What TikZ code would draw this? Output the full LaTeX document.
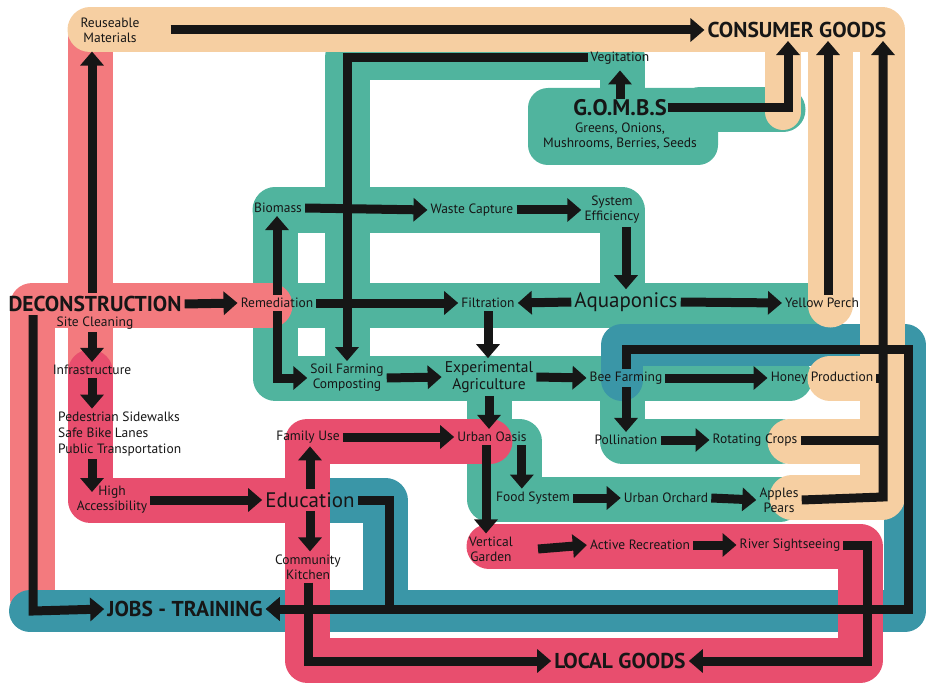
\documentclass[tikz,border=0pt]{standalone}
\usepackage{fontspec}
\setmainfont{PT Sans}
\usetikzlibrary{arrows.meta}
\definecolor{bandpeach}{RGB}{246,207,162}
\definecolor{bandcoral}{RGB}{243,122,126}
\definecolor{bandrose}{RGB}{232,78,110}
\definecolor{bandteal}{RGB}{80,180,158}
\definecolor{bandblue}{RGB}{58,150,167}
\definecolor{ink}{RGB}{22,22,22}
\begin{document}
\begin{tikzpicture}[x=1pt,y=-1pt,
    band/.style={line width=45pt,line cap=round,line join=round},
    lbl/.style={font=\fontsize{13.5}{15}\selectfont,align=center,inner sep=3pt,text=ink},
    big/.style={lbl,font=\fontsize{21}{22}\selectfont},
    head/.style={lbl,font=\bfseries\fontsize{21.5}{22}\selectfont},
    arr/.style={draw=ink,line width=9pt,-{Triangle[length=14pt,width=23pt]}},
    link/.style={draw=ink,line width=9pt}]
    \useasboundingbox (0,0) rectangle (926,687);

    % teal: aquaponics / farming loops
    \draw[band,bandteal] (622,130) -- (622,58) -- (347,58) -- (347,378);
    \draw[band,bandteal] (275,210) -- (622,210) -- (622,305);
    \draw[band,bandteal] (275,210) -- (275,378) -- (790,378);
    \draw[band,bandteal] (275,305) -- (820,305);
    \draw[band,bandteal] (622,378) -- (622,441) -- (780,441);
    \draw[band,bandteal] (489,378) -- (489,499) -- (780,499);
    \draw[band,bandteal] (489,441) -- (519,441) -- (519,499);
    \fill[bandteal,rounded corners=20pt] (528,88) rectangle (718,165);
    \draw[band,bandteal] (700,110) -- (783,110);

    % coral: deconstruction
    \draw[band,bandcoral] (90,40) -- (90,370);
    \draw[band,bandcoral] (270,305) -- (32,305) -- (32,598);

    % blue: jobs
    \draw[band,bandblue,line width=42pt] (622,380) -- (622,345) -- (905,345) -- (905,611) -- (30,611);
    \draw[band,bandblue] (330,500) -- (385,500) -- (385,600);

    % rose: community
    \draw[band,bandrose] (90,372) -- (90,500) -- (307,500);
    \draw[band,bandrose] (490,441) -- (307,441) -- (307,660) -- (860,660) -- (860,546) -- (489,546);

    % peach: consumer goods
    \draw[band,bandpeach] (90,30) -- (882,30) -- (882,497) -- (792,497);
    \draw[band,bandpeach] (882,378) -- (830,378);
    \draw[band,bandpeach] (882,441) -- (790,441);
    \draw[band,bandpeach] (830,30) -- (830,305);
    \draw[band,bandpeach,line width=36pt] (783,30) -- (783,112);

    \node[lbl] (reuse) at (110,30) {Reuseable\\Materials};
    \node[head] (consumer) at (797,30) {CONSUMER GOODS};
    \node[lbl] (veg) at (620,58) {Vegitation};
    \node[head,inner sep=1pt,font=\bfseries\fontsize{22.5}{24}\selectfont] (gombs) at (620,108) {G.O.M.B.S};
    \node[lbl,anchor=north,inner sep=1pt] (crops) at (620,122) {Greens, Onions,\\Mushrooms, Berries, Seeds};
    \node[lbl] (biomass) at (278,208) {Biomass};
    \node[lbl] (waste) at (472,210) {Waste Capture};
    \node[lbl] (effic) at (612,210) {System\\Efficiency};
    \node[head] (decon) at (95,304) {DECONSTRUCTION};
    \node[lbl] (site) at (95,323) {Site Cleaning};
    \node[lbl] (remed) at (277,303) {Remediation};
    \node[lbl] (filtr) at (488,303) {Filtration};
    \node[big] (aqua) at (626,302) {Aquaponics};
    \node[lbl] (perch) at (822,303) {Yellow Perch};
    \node[lbl] (infra) at (92,370) {Infrastructure};
    \node[lbl] (soil) at (347,378) {Soil Farming\\Composting};
    \node[lbl,font=\fontsize{15.5}{17}\selectfont] (expag) at (489,377) {Experimental\\Agriculture};
    \node[lbl] (bee) at (626,378) {Bee Farming};
    \node[lbl] (honey) at (822,378) {Honey Production};
    \node[lbl,align=left,anchor=west,font=\fontsize{13.5}{16}\selectfont] (streets) at (55,434) {Pedestrian Sidewalks\\Safe Bike Lanes\\Public Transportation};
    \node[lbl] (family) at (308,437) {Family Use};
    \node[lbl] (oasis) at (492,437) {Urban Oasis};
    \node[lbl] (pollin) at (626,440) {Pollination};
    \node[lbl] (rotate) at (755,440) {Rotating Crops};
    \node[lbl] (access) at (112,500) {High\\Accessibility};
    \node[big] (educ) at (310,500) {Education};
    \node[lbl] (food) at (533,498) {Food System};
    \node[lbl] (orchard) at (666,498) {Urban Orchard};
    \node[lbl] (apples) at (779,500) {Apples\\Pears};
    \node[lbl] (vert) at (491,549) {Vertical\\Garden};
    \node[lbl] (active) at (640,545) {Active Recreation};
    \node[lbl] (river) at (790,545) {River Sightseeing};
    \node[lbl] (kitchen) at (308,567) {Community\\Kitchen};
    \node[head] (jobs) at (185,609) {JOBS - TRAINING};
    \node[head] (local) at (620,661) {LOCAL GOODS};

    \coordinate (leftrail) at (33,611);
    \coordinate (rightrail) at (883,497);
    \coordinate (topright) at (908,349);

    % deconstruction side
    \draw[arr] ([xshift=28pt]reuse.east) -- (consumer.west);
    \draw[arr,shorten >=6pt] (decon.north -| infra) -- (reuse.south -| infra);
    \draw[arr] (decon.south -| leftrail) -- (leftrail) -- (jobs.west);
    \draw[arr] (decon.east) -- (remed.west);
    \draw[arr] (infra |- site.south) -- (infra.north);
    \draw[arr] (infra.south) -- (infra |- streets.north);
    \draw[arr,shorten >=8pt] (infra |- streets.south) -- (infra |- access.center);
    \draw[arr] (access.east) -- (educ.west);
    \draw[arr] (educ.north) -- (educ.north |- family.south);
    \draw[arr] (educ.south) -- (educ.south |- kitchen.north);
    \draw[arr] (family.east) -- (oasis.west);
    \draw[arr] (kitchen.south) |- (local.west);
    \draw[arr] (educ.east) -- ++(32,0) |- (jobs.east);

    % farming loops
    \draw[arr] (remed.north) -- (remed.north |- biomass.south);
    \draw[arr] (remed.south) |- (soil.west);
    \draw[arr] (remed.east) -- (filtr.west);
    \draw[arr] (biomass.east) -- (waste.west);
    \draw[arr] (waste.east) -- (effic.west);
    \draw[arr] (aqua.north |- effic.south) -- (aqua.north);
    \draw[arr] (aqua.west) -- (filtr.east);
    \draw[arr] (aqua.east) -- (perch.west);
    \draw[arr] (filtr.south) -- (filtr.south |- expag.north);
    \draw[arr] (soil.east) -- (expag.west);
    \draw[arr] (expag.east) -- (bee.west);
    \draw[arr] (bee.east) -- (honey.west);
    \draw[arr] (bee.south) -- (bee.south |- pollin.north);
    \draw[arr] (pollin.east) -- (rotate.west);
    \draw[arr] (expag.south) -- (expag.south |- oasis.north);
    \draw[arr] ([xshift=-8pt]oasis.south east) -- ([xshift=-8pt]oasis.south east |- food.north);
    \draw[arr] ([xshift=-6pt]oasis.south) -- ([xshift=-6pt]oasis.south |- vert.north);
    \draw[arr] (food.east) -- (orchard.west);
    \draw[arr] (orchard.east) -- (apples.west);
    \draw[arr] ([xshift=22pt]vert.east) -- (active.west);
    \draw[arr] (active.east) -- (river.west);
    \draw[arr] (river.east) -- ++(24,0) |- (local.east);
    \draw[arr] (veg.west) -| (soil.north);
    \draw[arr,shorten >=3pt] (gombs.north) -- (veg.south);

    % to consumer goods and jobs
    \draw[arr] (gombs.east) -| ([xshift=-9pt]consumer.south);
    \draw[arr] ([xshift=6pt]perch.north) -- ([xshift=6pt]perch.north |- consumer.south);
    \draw[arr] (apples.east) -- (rightrail) -- (rightrail |- consumer.south);
    \draw[link] (honey.east) -- (honey.east -| rightrail);
    \draw[link] (rotate.east) -- (rotate.east -| rightrail);
    \draw[arr] (bee.north) |- (topright) |- (jobs.east);
\end{tikzpicture}
\end{document}
